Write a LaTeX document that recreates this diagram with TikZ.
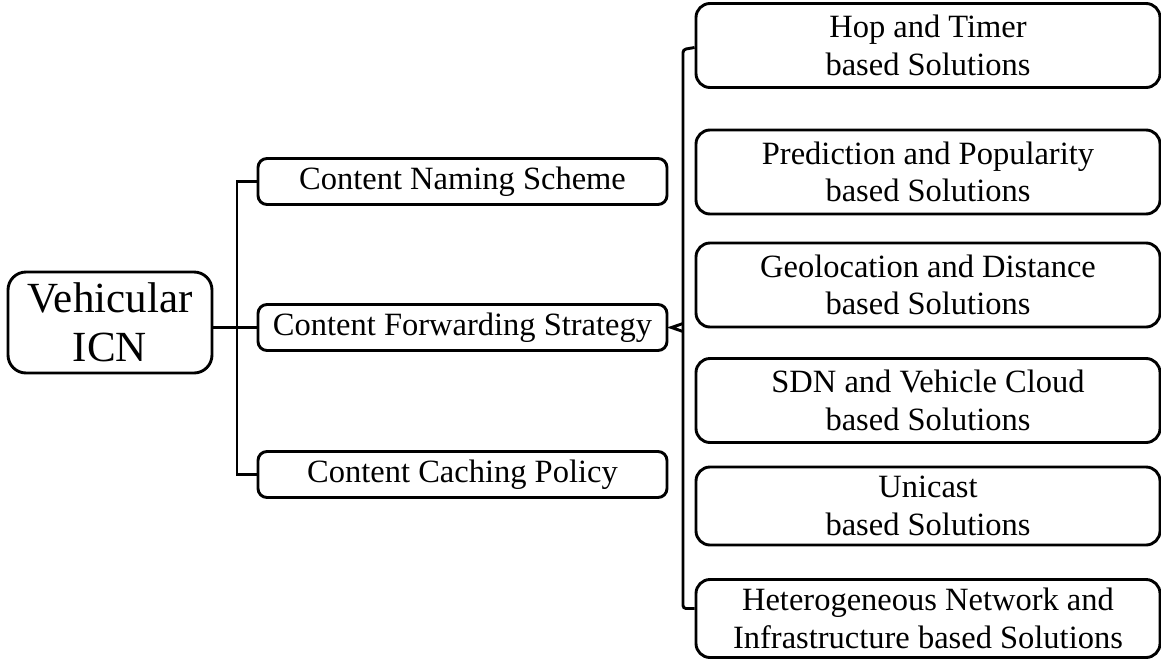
\documentclass[tikz,border=0pt]{standalone}
\usepackage{fontspec}
\setmainfont{Liberation Serif}
\usetikzlibrary{calc}
\begin{document}
\begin{tikzpicture}[x=1pt,y=-1pt,
  conn/.style={line width=2.9pt},
  box/.style={draw, line width=2.9pt, align=center, inner sep=0pt,
    font=\fontsize{32.5}{37.5}\selectfont},
  rootbox/.style={box, rounded corners=18pt, minimum width=204pt, minimum height=101pt,
    font=\fontsize{43}{49}\selectfont},
  midbox/.style={box, rounded corners=9pt, minimum width=409pt, minimum height=46pt},
  leafbox/.style={box, rounded corners=14pt, minimum width=464pt, minimum height=84pt}]
\useasboundingbox (0,0) rectangle (1161,659);

% root and first level
\node[rootbox] (root) at (110,322.5) {Vehicular\\ICN};
\node[midbox] (naming)  at (462.5,181.5) {Content Naming Scheme};
\node[midbox] (fwd)     at (462.5,327.5) {Content Forwarding Strategy};
\node[midbox] (caching) at (462.5,474.5) {Content Caching Policy};

% forwarding sub-categories
\node[leafbox] (hop)  at (928,45.5)  {Hop and Timer\\based Solutions};
\node[leafbox] (pred) at (928,172)   {Prediction and Popularity\\based Solutions};
\node[leafbox] (geo)  at (928,285)   {Geolocation and Distance\\based Solutions};
\node[leafbox] (sdn)  at (928,400.5) {SDN and Vehicle Cloud\\based Solutions};
\node[leafbox, minimum height=78pt] (uni) at (928,506) {Unicast\\based Solutions};
\node[leafbox, minimum height=78pt] (het) at (928,618.5) {Heterogeneous Network and\\Infrastructure based Solutions};

% left bracket
\coordinate (lt) at (237,0);
\draw[conn] (root.east |- fwd.west) -- (fwd.west);
\draw[conn] (naming.west) -- (lt |- naming.west) -- (lt |- caching.west) -- (caching.west);

% right brace
\coordinate (rt) at (683,0);
\coordinate (tip) at ($(fwd.east)+(3,0)$);
\draw[conn, rounded corners=3pt] ($(hop.west)+(0,2)$) -- (rt |- {$(hop.west)+(0,4)$})
  -- (rt |- {$(het.west)+(0,-10)$}) -- ($(het.west)+(0,-10)$);
\draw[conn, line join=miter] ($(rt |- tip)+(0,-4)$) -- (tip) -- ($(rt |- tip)+(0,4)$);
\end{tikzpicture}
\end{document}
